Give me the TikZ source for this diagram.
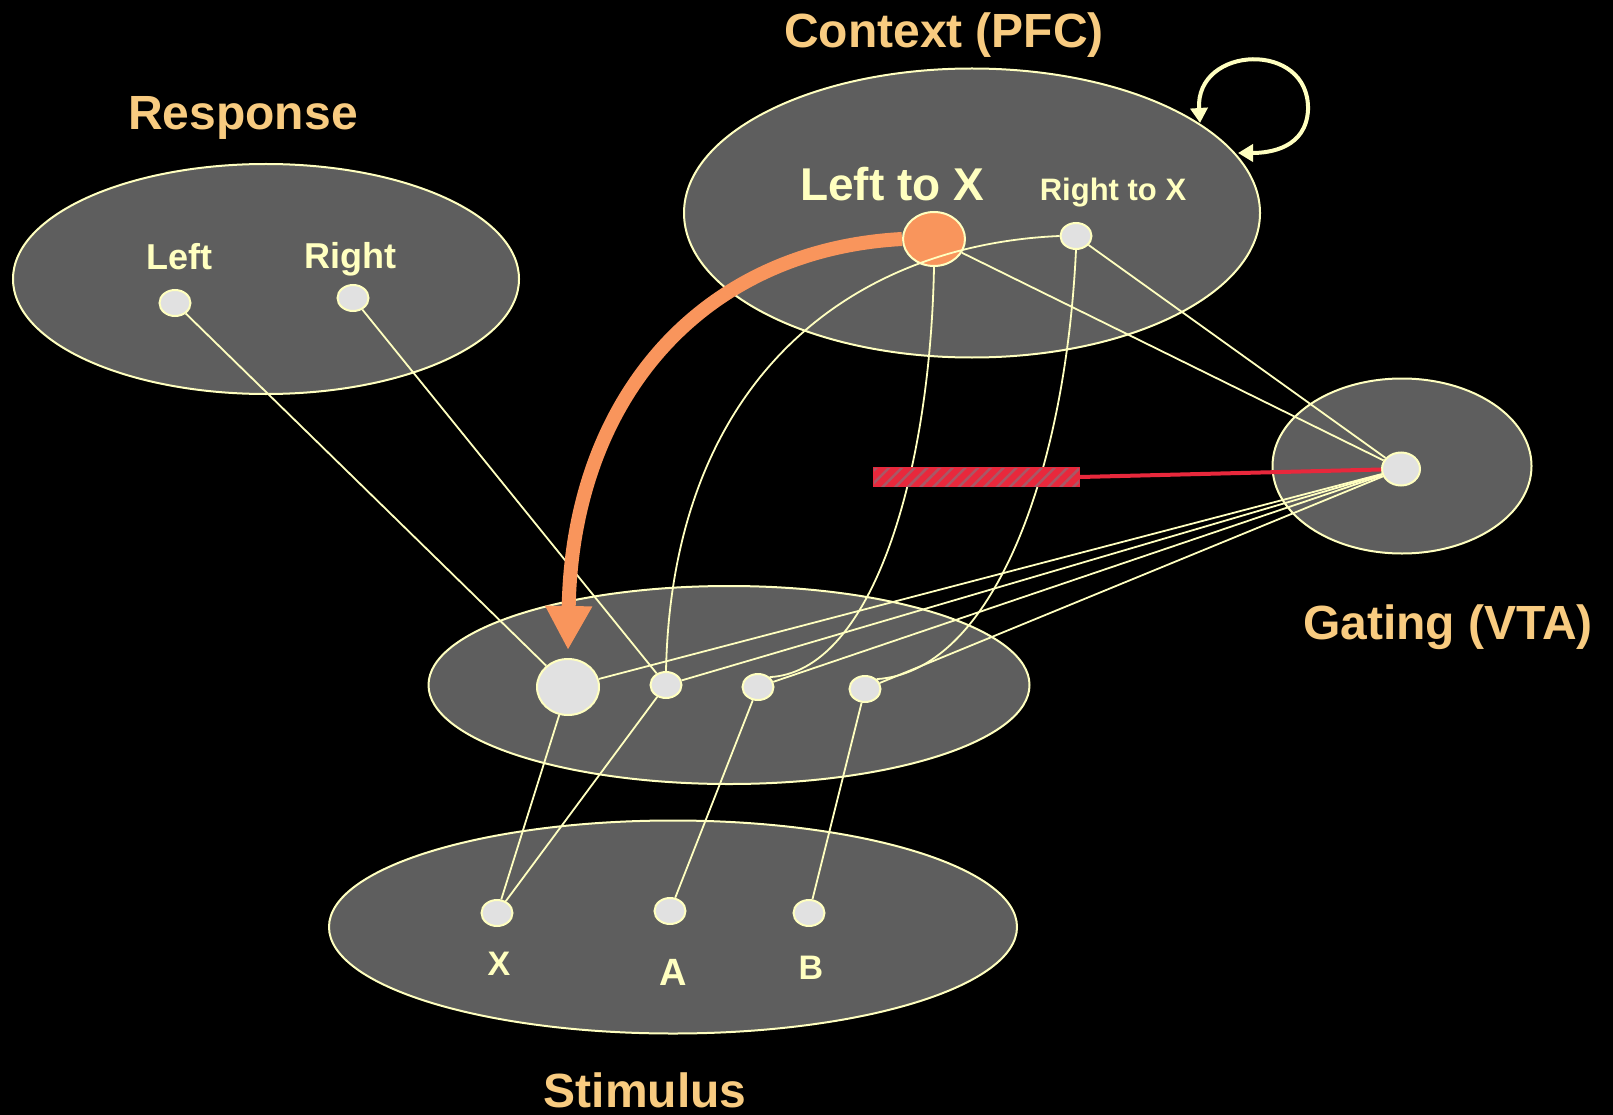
\documentclass[tikz,border=0pt]{standalone}
\usepackage{fontspec}
\setmainfont{Liberation Sans}
\usetikzlibrary{shapes.geometric,arrows.meta,patterns.meta}
\definecolor{bgray}{HTML}{5E5E5E}
\definecolor{cream}{HTML}{FFFFC0}
\definecolor{ttlc}{HTML}{F8CB80}
\definecolor{unitfill}{HTML}{E1E1E1}
\definecolor{orng}{HTML}{F9955C}
\definecolor{redbar}{HTML}{E8283C}
\definecolor{hatchc}{HTML}{A85866}
\begin{document}
\begin{tikzpicture}[x=1pt,y=-1pt,
 layer/.style={ellipse, draw=cream, line width=2pt, fill=bgray, inner sep=0},
 unit/.style={ellipse, draw=cream, line width=2pt, fill=unitfill, inner sep=0, minimum width=31pt, minimum height=26pt},
 bigunit/.style={unit, minimum width=62pt, minimum height=56pt},
 conn/.style={draw=cream, line width=1.8pt},
 ttl/.style={text=ttlc, font=\fontsize{48}{50}\selectfont\bfseries, inner sep=0},
 lbl/.style={text=cream, font=\fontsize{36}{40}\selectfont\bfseries, inner sep=0},
 loopst/.style={draw=cream, line width=4pt, {Triangle[width=17pt,length=15pt]}-{Triangle[width=17pt,length=15pt]}},
]
\fill[black] (0,0) rectangle (1613,1115);
\useasboundingbox (0,0) rectangle (1613,1115);

% layers
\node[layer, minimum width=506pt, minimum height=230pt] (resp) at (266,279) {};
\node[layer, minimum width=576pt, minimum height=289pt] (ctx) at (972,213) {};
\node[layer, minimum width=259pt, minimum height=175pt] (gat) at (1402,466) {};
\node[layer, minimum width=601pt, minimum height=198pt] (hid) at (729,685) {};
\node[layer, minimum width=688pt, minimum height=213pt] (stim) at (673,927) {};

% titles
\node[ttl] (tresp) at (243,118) {Response};
\node[ttl] (tctx) at (944,35) {Context (PFC)};
\node[ttl] (tgat) at (1448,627) {Gating (VTA)};
\node[ttl] (tstim) at (645,1090) {Stimulus};

% labels
\node[lbl] (tl) at (179,257) {Left};
\node[lbl] (tr) at (350,259) {Right};
\node[lbl, font=\fontsize{46}{50}\selectfont\bfseries] (tltx) at (892,184) {Left to X};
\node[lbl, font=\fontsize{31}{34}\selectfont\bfseries] (trtx) at (1113,193) {Right to X};
\node[lbl, font=\fontsize{34}{38}\selectfont\bfseries] (tx) at (499,964) {X};
\node[lbl, font=\fontsize{38}{40}\selectfont\bfseries] (ta) at (673,972) {A};
\node[lbl, font=\fontsize{34}{38}\selectfont\bfseries] (tb) at (811,968) {B};

% units
\node[unit] (L) at (175,303) {};
\node[unit] (R) at (353,298) {};
\node[bigunit, fill=orng, minimum height=54pt] (ltx) at (934,239) {};
\node[unit] (rtx) at (1076,236) {};
\node[unit, minimum width=38pt, minimum height=33pt] (gn) at (1401,469) {};
\node[bigunit] (h1) at (568,687) {};
\node[unit] (h2) at (666,685) {};
\node[unit] (h3) at (758,687) {};
\node[unit] (h4) at (865,689) {};
\node[unit] (sx) at (497,913) {};
\node[unit] (sa) at (670,911) {};
\node[unit] (sb) at (809,913) {};

% connectors
\draw[conn] (L) -- (h1);
\draw[conn] (R) -- (h2);
\draw[conn] (ltx) -- (gn);
\draw[conn] (rtx) -- (gn);
\draw[conn] (gn) -- (h1);
\draw[conn] (gn) -- (h2);
\draw[conn] (gn) -- (h3);
\draw[conn] (gn) -- (h4);
\draw[conn] (h1) -- (sx);
\draw[conn] (h2) -- (sx);
\draw[conn] (h3) -- (sa);
\draw[conn] (h4) -- (sb);
\draw[conn] (rtx.west) .. controls (850,245) and (672,380) .. (h2.north);
\draw[conn] (ltx.south) .. controls (930,480) and (870,672) .. (h3.north east);
\draw[conn] (rtx.south) .. controls (1065,480) and (990,672) .. (h4.north east);

% inhibitory bar
\node[draw=redbar, line width=2pt, fill=redbar, minimum width=205pt, minimum height=18pt, inner sep=0,
  postaction={pattern={Lines[angle=45,distance=9pt,line width=2.5pt]}, pattern color=hatchc}] (bar) at (976.5,477) {};
\draw[redbar, line width=4pt] (gn) -- (bar.east);

% self loop
\coordinate (la) at (1200,123);
\coordinate (lb) at (1238,153);
\draw[loopst] (la) .. controls (1195,45) and (1310,40) .. (1308,110) .. controls (1306,148) and (1270,153) .. (lb);

% orange arrow
\draw[orng, line width=14pt, -{Triangle[width=44pt,length=44pt]}] (ltx.west) .. controls (700,250) and (572,400) .. ([yshift=8pt]h1.north);
\end{tikzpicture}
\end{document}
